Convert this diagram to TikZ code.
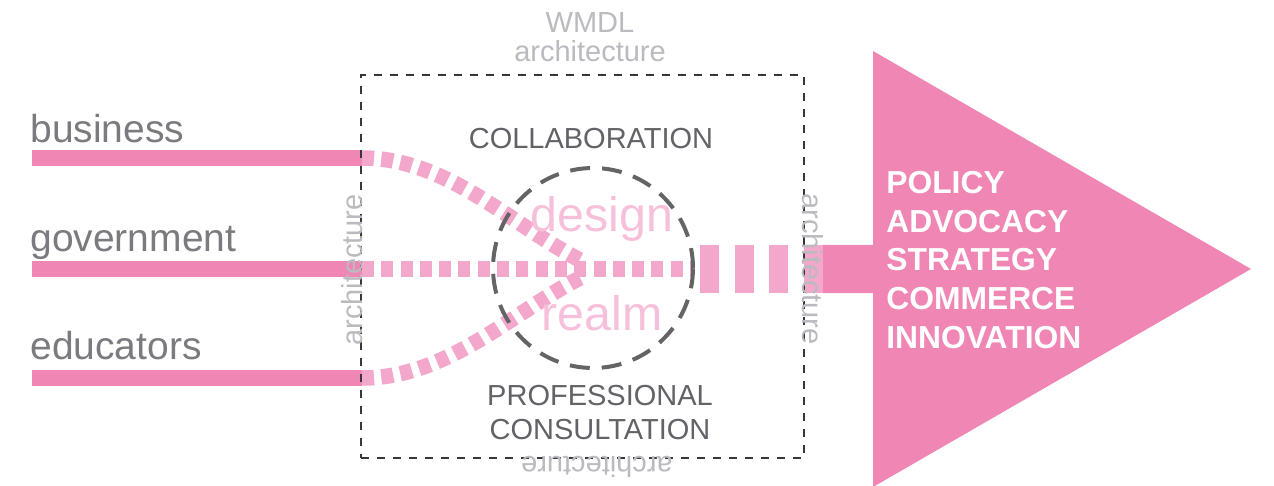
\documentclass[tikz,border=0pt]{standalone}
\usepackage{fontspec}
\setmainfont{Liberation Sans}
\usetikzlibrary{positioning}

\definecolor{barpink}{RGB}{240,134,180}
\definecolor{dotpink}{RGB}{243,168,203}
\definecolor{realmpink}{RGB}{247,192,218}
\definecolor{labelgray}{RGB}{122,122,127}
\definecolor{modegray}{RGB}{98,98,103}
\definecolor{archgray}{RGB}{186,186,191}
\definecolor{hubgray}{RGB}{100,100,102}
\definecolor{framegray}{RGB}{55,55,58}

\begin{document}
\begin{tikzpicture}[x=0.02cm, y=-0.02cm,
    inlabel/.style={anchor=base west, inner sep=0, text=labelgray, font=\fontsize{22.2}{24}\selectfont},
    bar/.style={barpink, line width=0.32cm},
    flow/.style={dotpink, line width=0.31cm, dash pattern=on 0.24cm off 0.146cm},
    pipe/.style={dotpink, line width=0.96cm, dash pattern=on 0.38cm off 0.314cm, dash phase=0.554cm},
    frame/.style={draw=framegray, line width=0.7pt, dash pattern=on 0.16cm off 0.16cm, minimum width=8.86cm, minimum height=7.66cm, inner sep=0},
    hub/.style={circle, draw=hubgray, line width=0.08cm, dash pattern=on 0.4cm off 0.24cm, minimum size=4cm, inner sep=0},
    arch/.style={inner sep=0, text=archgray, font=\fontsize{16.5}{18}\selectfont},
    mode/.style={inner sep=0, text=modegray, align=center, font=\fontsize{16.5}{19.3}\selectfont},
    realmtxt/.style={anchor=base, inner sep=0, text=realmpink, font=\fontsize{27.5}{30}\selectfont},
    outcome/.style={anchor=north west, inner sep=0, text=white, align=left, font=\fontsize{18.1}{22}\selectfont\bfseries},
]
\useasboundingbox (0,0) rectangle (1274,486);

% Inputs
\coordinate (bizL) at (32,158);
\coordinate (bizR) at (362,158);
\coordinate (govL) at (32,269);
\coordinate (govR) at (362,269);
\coordinate (eduL) at (32,378);
\coordinate (eduR) at (362,378);

\draw[bar] (bizL) -- (bizR);
\draw[bar] (govL) -- (govR);
\draw[bar] (eduL) -- (eduR);

\node[inlabel] (biz) at (30,143) {business};
\node[inlabel] (gov) at (30,252) {government};
\node[inlabel] (edu) at (30,359) {educators};

% Design realm
\coordinate (mergeN) at (580,260);
\coordinate (mergeS) at (580,278);
\coordinate (hubE) at (693,269);
\coordinate (stem) at (823,269);

\draw[flow] (bizR) .. controls +(85,0) and +(-70,-36) .. (mergeN);
\draw[flow] (eduR) .. controls +(85,0) and +(-70,36) .. (mergeS);
\draw[flow] (govR) -- (hubE);
\draw[pipe] (hubE) -- (stem);

\node[hub] (hub) at (593,268) {};
\node[realmtxt] (design) at (602,232) {design};
\node[realmtxt] (realm) at (602,330) {realm};

% WMDL frame
\node[frame] (wmdl) at (582.5,266.5) {};
\node[arch, anchor=base] (wmdlname) at (590,33) {WMDL};
\node[arch, anchor=base] (archtop) at (590,62) {architecture};
\node[arch, rotate=90] (archleft) at (352.5,270) {architecture};
\node[arch, rotate=-90] (archright) at (812.5,269) {architecture};
\node[arch, rotate=180] (archbottom) at (597,467) {architecture};

\node[mode, anchor=base] (collab) at (591,149) {COLLABORATION};
\node[mode, anchor=north] (consult) at (600,385) {PROFESSIONAL\\CONSULTATION};

% Output
\fill[barpink] (stem |- 0,245) -- (873,245) -- (873,51) -- (1251,269)
    -- (873,487) -- (873,293) -- (stem |- 0,293) -- cycle;
\node[outcome] (goals) at (886,171) {POLICY\\ADVOCACY\\STRATEGY\\COMMERCE\\INNOVATION};
\end{tikzpicture}
\end{document}
